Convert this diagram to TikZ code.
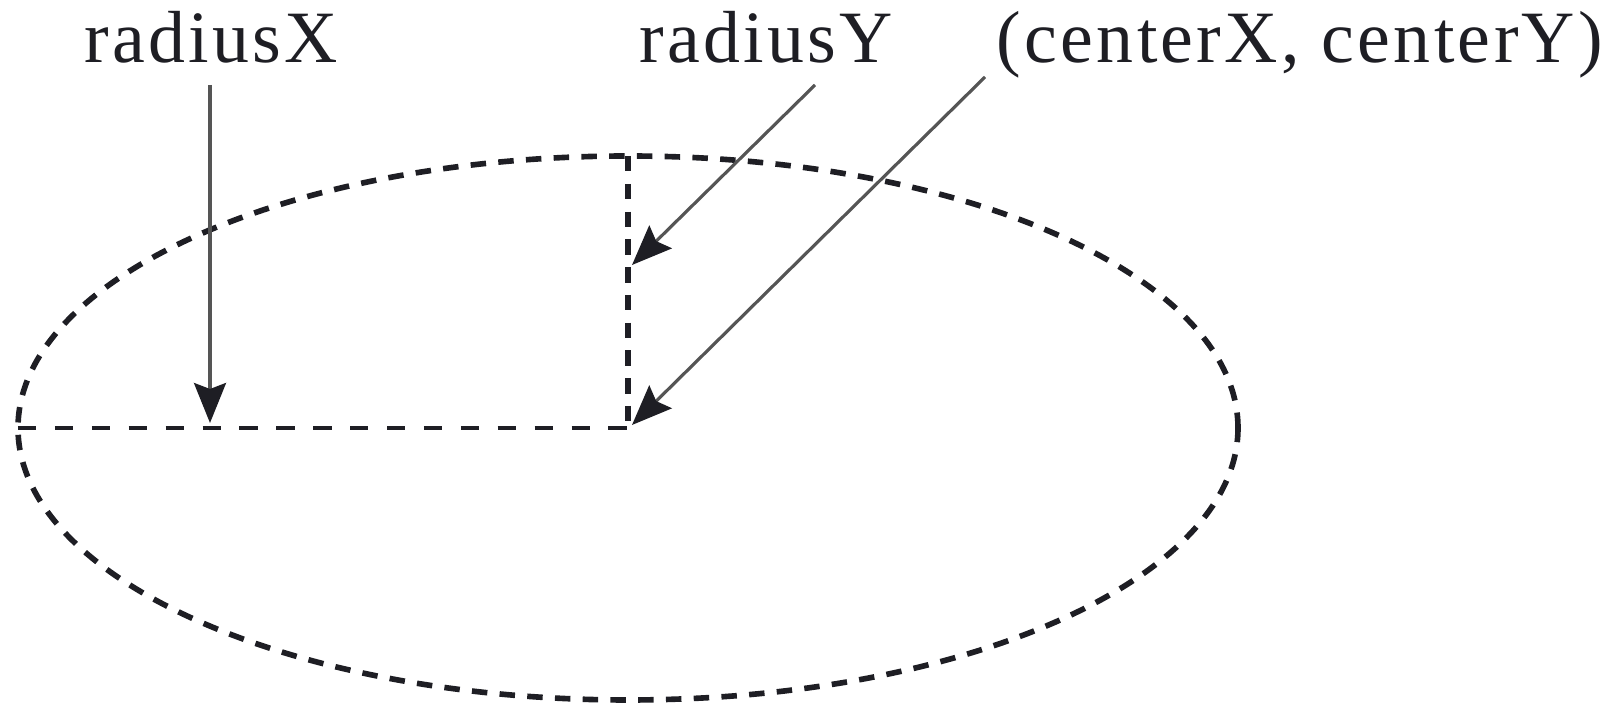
\documentclass[tikz,border=0pt]{standalone}
\usepackage{fontspec}
\setmainfont{Liberation Serif}[LetterSpace=4.5]
\usepackage{tikz}
\usetikzlibrary{arrows.meta}
\definecolor{ink}{HTML}{1E1E24}
\definecolor{arrowgray}{HTML}{555555}

\begin{document}
\begin{tikzpicture}[
    lbl/.style={font=\fontsize{21}{25}\selectfont, text=ink,
                inner sep=0pt, anchor=base},
    arrow/.style={-{Stealth[length=4mm, width=3.2mm, inset=0.6mm, color=ink]},
                  line width=0.9pt, draw=arrowgray},
    outline/.style={draw=ink, line width=1.6pt, dash pattern=on 4.4pt off 3.5pt},
    guide/.style={draw=ink, line width=1.1pt, dash pattern=on 5.2pt off 5.3pt},
]
\useasboundingbox (0,0) rectangle (16.18,7.13);

% Ellipse and its radii
\coordinate (ctr) at (6.28,2.85);
\coordinate (lpt) at (0.18,2.85);
\coordinate (tpt) at (6.28,5.57);
\draw[outline] (ctr) ellipse [x radius=6.10, y radius=2.72];
\draw[guide] (lpt) -- (ctr);
\draw[outline] (tpt) -- (ctr);

% Labels
\node[lbl] (rx) at (2.115,6.50) {radiusX};
\node[lbl] (ry) at (7.66,6.50) {radiusY};
\node[lbl] (cxy) at (13.00,6.50) {(centerX, centerY)};

% Arrows
\coordinate (rxfrom) at (2.10,6.28);
\coordinate (rxto) at (2.10,2.90);
\coordinate (ryfrom) at (8.15,6.28);
\coordinate (ryto) at (6.32,4.48);
\coordinate (cxyfrom) at (9.85,6.36);
\coordinate (cxyto) at (6.32,2.88);
\draw[arrow] (rxfrom) -- (rxto);
\draw[arrow] (ryfrom) -- (ryto);
\draw[arrow] (cxyfrom) -- (cxyto);
\end{tikzpicture}
\end{document}
